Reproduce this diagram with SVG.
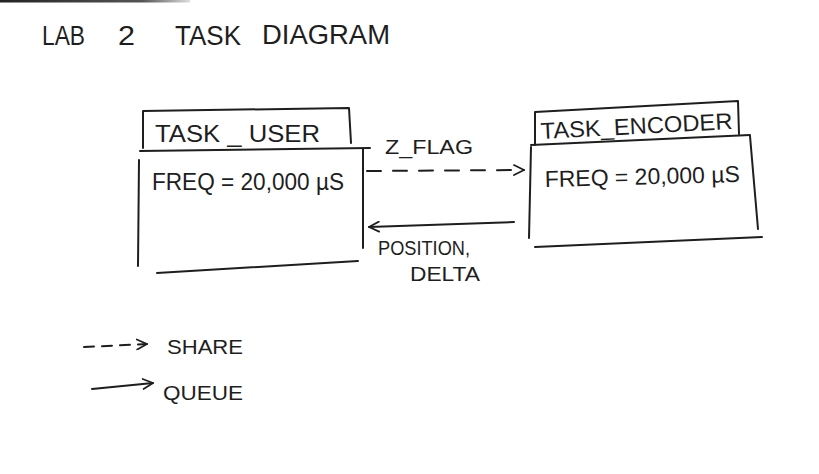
<svg xmlns="http://www.w3.org/2000/svg" width="819" height="474" viewBox="0 0 819 474">
  <defs>
    <linearGradient id="scan" x1="0" y1="0" x2="1" y2="0">
      <stop offset="0" stop-color="#222"/>
      <stop offset="0.75" stop-color="#555"/>
      <stop offset="1" stop-color="#ddd"/>
    </linearGradient>
    <marker id="open" viewBox="0 0 12 12" refX="11" refY="6" markerWidth="12" markerHeight="12" markerUnits="userSpaceOnUse" orient="auto">
      <path d="M1,1 L11,6 L1,11" fill="none" stroke="#1e1e1e" stroke-width="1.8" stroke-linecap="round" stroke-linejoin="round"/>
    </marker>
  </defs>
  <style>
    .ink { fill: none; stroke: #1e1e1e; stroke-width: 2; stroke-linecap: round; stroke-linejoin: round; }
    .dash { stroke-dasharray: 14 12; }
    .t { font-family: "Liberation Sans", "DejaVu Sans", sans-serif; fill: #1e1e1e; font-size: 23px; }
    .s { font-size: 21px; }
    .title { font-size: 27px; }
  </style>
  <rect width="819" height="474" fill="#ffffff"/>
  <rect x="0" y="0" width="190" height="2.5" fill="url(#scan)"/>

  <g id="title">
    <text class="t title" x="42" y="45" textLength="43" lengthAdjust="spacingAndGlyphs">LAB</text>
    <text class="t title" x="118" y="45" textLength="17" lengthAdjust="spacingAndGlyphs">2</text>
    <text class="t title" x="175" y="45" textLength="66" lengthAdjust="spacingAndGlyphs">TASK</text>
    <text class="t title" x="262" y="44" textLength="128" lengthAdjust="spacingAndGlyphs">DIAGRAM</text>
  </g>

  <g id="task_user">
    <path class="ink" d="M143,148 L143,111 L349,108 L351,143"/>
    <path class="ink" d="M140,151 L370,148"/>
    <path class="ink" d="M139,160 L138,266"/>
    <path class="ink" d="M363,149 L363,248"/>
    <path class="ink" d="M157,273 L358,261"/>
    <text class="t" x="155" y="142" textLength="165" lengthAdjust="spacingAndGlyphs">TASK _ USER</text>
    <text class="t" x="152" y="190" textLength="192" lengthAdjust="spacingAndGlyphs">FREQ = 20,000 µS</text>
  </g>

  <g id="task_encoder">
    <path class="ink" d="M535,145 L535,112 L738,101 L739,134"/>
    <path class="ink" d="M531,145 L750,135"/>
    <path class="ink" d="M531,147 L529,238"/>
    <path class="ink" d="M750,136 L758,229"/>
    <path class="ink" d="M535,247 L762,237"/>
    <text class="t" x="541" y="139" textLength="192" lengthAdjust="spacingAndGlyphs" transform="rotate(-3 541 139)">TASK_ENCODER</text>
    <text class="t" x="545" y="187" textLength="195" lengthAdjust="spacingAndGlyphs" transform="rotate(-1.5 545 187)">FREQ = 20,000 µS</text>
  </g>

  <g id="connectors">
    <path class="ink dash" d="M367,171 L524,170" marker-end="url(#open)"/>
    <text class="t s" x="385" y="154" textLength="88" lengthAdjust="spacingAndGlyphs">Z_FLAG</text>
    <path class="ink" d="M514,222 L369,227" marker-end="url(#open)"/>
    <text class="t s" x="378" y="255" textLength="92" lengthAdjust="spacingAndGlyphs">POSITION,</text>
    <text class="t s" x="410" y="281" textLength="70" lengthAdjust="spacingAndGlyphs">DELTA</text>
  </g>

  <g id="legend">
    <path class="ink" d="M84,347 L147,344" stroke-dasharray="10 8" marker-end="url(#open)"/>
    <text class="t s" x="167" y="354" textLength="76" lengthAdjust="spacingAndGlyphs">SHARE</text>
    <path class="ink" d="M92,389 L153,383" marker-end="url(#open)"/>
    <text class="t s" x="163" y="400" textLength="80" lengthAdjust="spacingAndGlyphs">QUEUE</text>
  </g>
</svg>
